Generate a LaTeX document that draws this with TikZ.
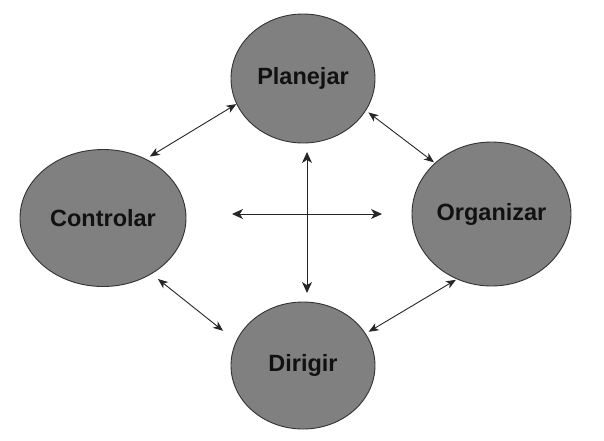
\documentclass[tikz,border=0pt]{standalone}
\usepackage{fontspec}
\setmainfont{Liberation Sans}
\usetikzlibrary{shapes.geometric,arrows.meta}
\definecolor{bubblefill}{HTML}{808080}
\definecolor{bubbleline}{HTML}{333333}
\definecolor{labeltext}{HTML}{111111}
\tikzset{
  bubble/.style={ellipse, draw=bubbleline, line width=0.9pt, fill=bubblefill, inner sep=0pt,
    text=labeltext, font=\fontsize{23.5}{26}\selectfont\bfseries},
  link/.style={line width=0.9pt, draw=black!85, {Stealth[length=10pt,width=8pt,inset=2.8pt]}-{Stealth[length=10pt,width=8pt,inset=2.8pt]}},
  crossarrow/.style={line width=1pt, draw=black!85, {Stealth[length=11pt,width=10pt,inset=3.2pt]}-{Stealth[length=11pt,width=10pt,inset=3.2pt]}}
}
\begin{document}
\begin{tikzpicture}[x=1pt,y=-1pt]
\useasboundingbox (0,0) rectangle (604,440);
\node[bubble, minimum width=144pt, minimum height=129pt] (P) at (303,78.5) {Planejar};
\node[bubble, minimum width=166pt, minimum height=137pt] (C) at (103,218) {Controlar};
\node[bubble, minimum width=159pt, minimum height=144pt] (O) at (491.5,214) {Organizar};
\node[bubble, minimum width=144pt, minimum height=127pt] (D) at (303,365.5) {Dirigir};
% links
\draw[link, shorten >=4.5pt] (P.201.9) -- (C.54.4);
\draw[link, shorten <=8pt, shorten >=16.5pt] (C.-49.7) -- (D.160.4);
\draw[link, shorten <=3pt, shorten >=1pt] (P.-27.5) -- (O.138.6);
\draw[link, shorten <=1pt, shorten >=3.4pt] (O.242.5) -- (D.27.5);
% central cross
\coordinate (hl) at (232,214);
\coordinate (hr) at (382,214);
\coordinate (vt) at (307,152);
\coordinate (vb) at (307,293);
\draw[crossarrow] (hl) -- (hr);
\draw[crossarrow] (vt) -- (vb);
\end{tikzpicture}
\end{document}
